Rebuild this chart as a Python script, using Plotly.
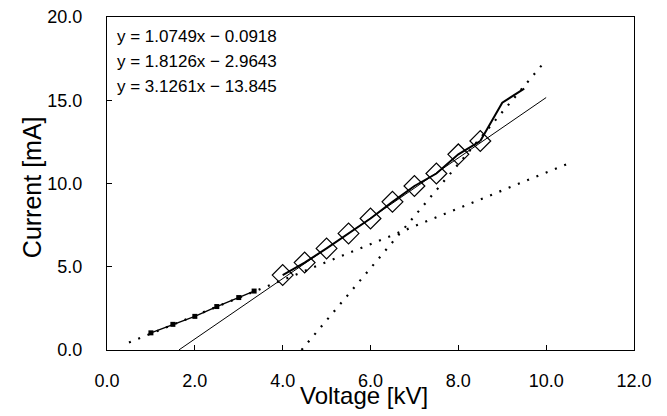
import plotly.graph_objects as go
import numpy as np

# Low-voltage series (small squares)
low_x = [1.0, 1.5, 2.0, 2.5, 3.0, 3.35]
low_y = [1.03, 1.54, 2.02, 2.61, 3.15, 3.54]

# Main series (diamonds)
main_x = [4.0, 4.5, 5.0, 5.5, 6.0, 6.5, 7.0, 7.5, 8.0, 8.5]
main_y = [4.5, 5.25, 6.1, 7.0, 7.9, 8.9, 9.85, 10.6, 11.75, 12.55]
# Continuation without markers
tail_x = [8.5, 9.0, 9.5]
tail_y = [12.55, 14.85, 15.7]

# Linear fits: (slope, intercept, x_start, x_end)
fit1 = (1.0749, -0.0918, 0.5, 10.5)
fit2 = (1.8126, -2.9643, 1.64, 10.0)
fit3 = (3.1261, -13.845, 4.43, 9.96)

eq_labels = ["y = 1.0749x \u2212 0.0918", "y = 1.8126x \u2212 2.9643", "y = 3.1261x \u2212 13.845"]

FONT = "Liberation Sans, Arial"

fig = go.Figure()

def fit_line(f):
    xs = np.array([f[2], f[3]])
    return xs, f[0] * xs + f[1]

x1, y1 = fit_line(fit1)
fig.add_trace(go.Scatter(x=x1, y=y1, mode="lines",
                         line=dict(color="black", width=2.2, dash="2px,8px")))
x2, y2 = fit_line(fit2)
fig.add_trace(go.Scatter(x=x2, y=y2, mode="lines",
                         line=dict(color="black", width=1)))
x3, y3 = fit_line(fit3)
fig.add_trace(go.Scatter(x=x3, y=y3, mode="lines",
                         line=dict(color="black", width=2.2, dash="2px,8px")))

fig.add_trace(go.Scatter(x=low_x, y=low_y, mode="lines+markers",
                         line=dict(color="black", width=1.3),
                         marker=dict(symbol="square", size=5, color="black")))
fig.add_trace(go.Scatter(x=tail_x, y=tail_y, mode="lines",
                         line=dict(color="black", width=2)))
fig.add_trace(go.Scatter(x=main_x, y=main_y, mode="lines+markers",
                         line=dict(color="black", width=2),
                         marker=dict(symbol="diamond-open", size=16,
                                     color="black", line=dict(width=1.2))))

eq_y = [0.940, 0.865, 0.790]
for t, yy in zip(eq_labels, eq_y):
    fig.add_annotation(x=0.016, y=yy, xref="paper", yref="paper",
                       text=t, showarrow=False, xanchor="left", yanchor="middle",
                       font=dict(size=17, color="black", family=FONT))

# Axis titles placed as annotations
fig.add_annotation(x=0.488, y=-0.138, xref="paper", yref="paper",
                   text="Voltage [kV]", showarrow=False,
                   xanchor="center", yanchor="middle",
                   font=dict(size=24, color="black", family=FONT))
fig.add_annotation(x=-0.1423, y=0.489, xref="paper", yref="paper",
                   text="Current [mA]", showarrow=False, textangle=-90,
                   xanchor="center", yanchor="middle",
                   font=dict(size=25, color="black", family=FONT))

axis_common = dict(showgrid=False, zeroline=False, showline=True, linecolor="black",
                   linewidth=1.2, mirror=True, ticks="inside", ticklen=5,
                   tickcolor="black", automargin=False, ticklabeloverflow="allow",
                   tickfont=dict(size=18, color="black", family=FONT))

fig.update_xaxes(range=[0, 12], tickvals=[0, 2, 4, 6, 8, 10, 12],
                 ticktext=["0.0", "2.0", "4.0", "6.0", "8.0", "10.0", "12.0"],
                 ticklabelstandoff=14,
                 **axis_common)
fig.update_yaxes(range=[0, 20], tickvals=[0, 5, 10, 15, 20],
                 ticktext=["0.0", "5.0", "10.0", "15.0", "20.0"],
                 ticklabelstandoff=20,
                 **axis_common)

# The page body adds an 8px offset; compensate so the plot lands where the reference has it.
fig.update_layout(width=659, height=408, showlegend=False,
                  plot_bgcolor="white", paper_bgcolor="white",
                  margin=dict(l=99, r=33, t=9, b=66, autoexpand=False))

fig.write_html("out.html")
